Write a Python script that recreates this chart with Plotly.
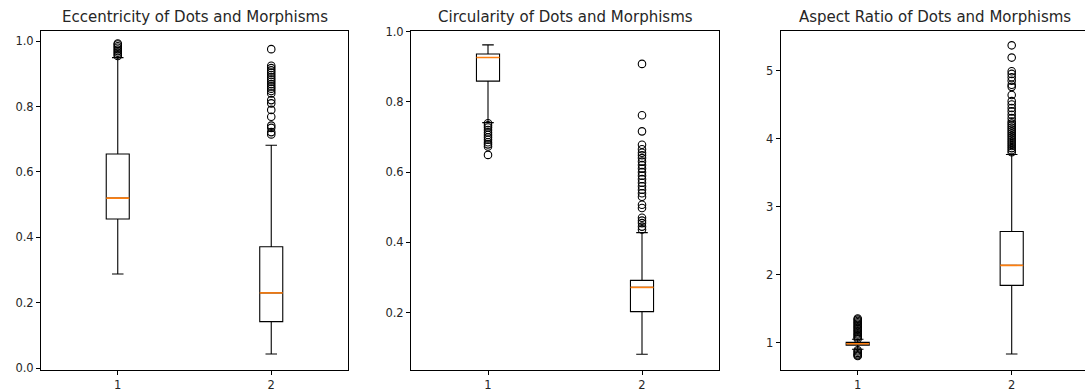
import plotly.graph_objects as go

W, H = 1085, 391

# ---------------- data ----------------
titles = ["Eccentricity of Dots and Morphisms",
          "Circularity of Dots and Morphisms",
          "Aspect Ratio of Dots and Morphisms"]
positions = [1, 2]
tick_labels = ["1", "2"]

# Eccentricity: [dots, morphisms]
ecc_q1 = [0.456, 0.142]
ecc_median = [0.520, 0.230]
ecc_q3 = [0.655, 0.371]
ecc_low = [0.288, 0.043]
ecc_high = [0.950, 0.682]
ecc_out_dots = [0.955, 0.96, 0.965, 0.97, 0.975, 0.98, 0.985, 0.99, 0.993]
ecc_out_morph = [0.976, 0.925, 0.918, 0.911, 0.904, 0.897, 0.890, 0.883, 0.876,
                 0.869, 0.862, 0.855, 0.848, 0.840, 0.820, 0.810, 0.790, 0.769,
                 0.742, 0.735, 0.722, 0.715]

# Circularity
circ_q1 = [0.859, 0.203]
circ_median = [0.926, 0.272]
circ_q3 = [0.936, 0.292]
circ_low = [0.741, 0.082]
circ_high = [0.962, 0.428]
circ_out_dots = [0.739, 0.733, 0.727, 0.72, 0.713, 0.706, 0.699, 0.692, 0.685,
                 0.679, 0.673, 0.649]
circ_out_morph = [0.908, 0.762, 0.716, 0.678, 0.665, 0.655, 0.648, 0.640, 0.630,
                  0.620, 0.610, 0.600, 0.590, 0.580, 0.570, 0.560, 0.550, 0.540,
                  0.530, 0.507, 0.498, 0.470, 0.462, 0.455, 0.445, 0.437]

# Aspect ratio
ar_q1 = [0.965, 1.842]
ar_median = [0.985, 2.136]
ar_q3 = [1.005, 2.635]
ar_low = [0.905, 0.834]
ar_high = [1.050, 3.766]
ar_out_dots = [1.06, 1.08, 1.10, 1.12, 1.14, 1.16, 1.18, 1.20, 1.22, 1.24, 1.26,
               1.28, 1.30, 1.32, 1.34, 1.355, 0.89, 0.87, 0.85, 0.83, 0.815, 0.804]
ar_out_morph = [5.37, 5.19, 4.99, 4.95, 4.90, 4.85, 4.79, 4.76, 4.64, 4.55, 4.50,
                4.45, 4.40, 4.35, 4.30, 4.25, 4.22, 4.19, 4.16, 4.13, 4.10, 4.07,
                4.04, 4.01, 3.98, 3.95, 3.92, 3.89, 3.86, 3.83, 3.80]

# ---------------- styling ----------------
BOX_W = 0.15
TEXT = "#262626"
FONT = "DejaVu Sans"
MEDIAN_C = "#ff7f0e"
TICK_SIZE = 11.5
TITLE_SIZE = 15

panels = [
    dict(q1=ecc_q1, med=ecc_median, q3=ecc_q3, lo=ecc_low, hi=ecc_high,
         outs=[ecc_out_dots, ecc_out_morph],
         xdom=[41 / W, 348 / W], xr=[0.5, 2.5], yr=[-0.006, 1.033],
         ytv=[0.0, 0.2, 0.4, 0.6, 0.8, 1.0], ytt=["0.0", "0.2", "0.4", "0.6", "0.8", "1.0"]),
    dict(q1=circ_q1, med=circ_median, q3=circ_q3, lo=circ_low, hi=circ_high,
         outs=[circ_out_dots, circ_out_morph],
         xdom=[411 / W, 719 / W], xr=[0.5, 2.5], yr=[0.037, 1.003],
         ytv=[0.2, 0.4, 0.6, 0.8, 1.0], ytt=["0.2", "0.4", "0.6", "0.8", "1.0"]),
    dict(q1=ar_q1, med=ar_median, q3=ar_q3, lo=ar_low, hi=ar_high,
         outs=[ar_out_dots, ar_out_morph],
         xdom=[780.7 / W, 1.0], xr=[0.5, 2.476], yr=[0.599, 5.588],
         ytv=[1, 2, 3, 4, 5], ytt=["1", "2", "3", "4", "5"]),
]

ydom = [1 - 370 / H, 1 - 30.5 / H]

fig = go.Figure()
layout = dict(width=W, height=H, margin=dict(l=0, r=0, t=0, b=0, autoexpand=False),
              paper_bgcolor="white", plot_bgcolor="white", showlegend=False,
              font=dict(family=FONT, color=TEXT, size=10))
annotations = []

for i, p in enumerate(panels):
    n = "" if i == 0 else str(i + 1)
    xa, ya = "x" + n, "y" + n
    for j, pos in enumerate(positions):
        fig.add_trace(go.Box(
            x=[pos], q1=[p["q1"][j]], median=[p["med"][j]], q3=[p["q3"][j]],
            lowerfence=[p["lo"][j]], upperfence=[p["hi"][j]],
            width=BOX_W, whiskerwidth=0.5, boxpoints=False,
            fillcolor="rgba(0,0,0,0)", line=dict(color="black", width=1.1),
            xaxis=xa, yaxis=ya, hoverinfo="skip"))
        fig.add_trace(go.Scatter(
            x=[pos - BOX_W / 2, pos + BOX_W / 2], y=[p["med"][j], p["med"][j]],
            mode="lines", line=dict(color=MEDIAN_C, width=1.6),
            xaxis=xa, yaxis=ya, hoverinfo="skip"))
        fig.add_trace(go.Scatter(
            x=[pos] * len(p["outs"][j]), y=p["outs"][j], mode="markers",
            marker=dict(symbol="circle-open", size=7.5, color="black",
                        line=dict(width=1.1, color="black")),
            xaxis=xa, yaxis=ya, hoverinfo="skip"))

    layout["xaxis" + n] = dict(
        domain=p["xdom"], range=p["xr"], anchor=ya, tickmode="array",
        tickvals=positions, ticktext=tick_labels, showgrid=False, zeroline=False,
        showline=True, linecolor="black", linewidth=1, mirror=True, automargin=False,
        ticks="outside", ticklen=4, tickcolor="black", tickwidth=1,
        tickfont=dict(size=TICK_SIZE, color=TEXT, family=FONT))
    layout["yaxis" + n] = dict(
        domain=ydom, range=p["yr"], anchor=xa, tickmode="array",
        tickvals=p["ytv"], ticktext=p["ytt"], showgrid=False, zeroline=False,
        showline=True, linecolor="black", linewidth=1, mirror=(i < 2), automargin=False,
        ticks="outside", ticklen=4, tickcolor="black", tickwidth=1,
        tickfont=dict(size=TICK_SIZE, color=TEXT, family=FONT))
    x0, x1 = p["xdom"]
    full_x1 = x0 + (x1 - x0) * (2.0 / (p["xr"][1] - p["xr"][0]))
    annotations.append(dict(
        text=titles[i], xref="paper", yref="paper", x=(x0 + full_x1) / 2, y=1 - 17 / H,
        xanchor="center", yanchor="middle", showarrow=False,
        font=dict(size=TITLE_SIZE, color=TEXT, family=FONT)))

layout["annotations"] = annotations
fig.update_layout(**layout)

fig.write_html("out.html", config={"displayModeBar": False},
               post_script="document.body.style.margin='0';")
